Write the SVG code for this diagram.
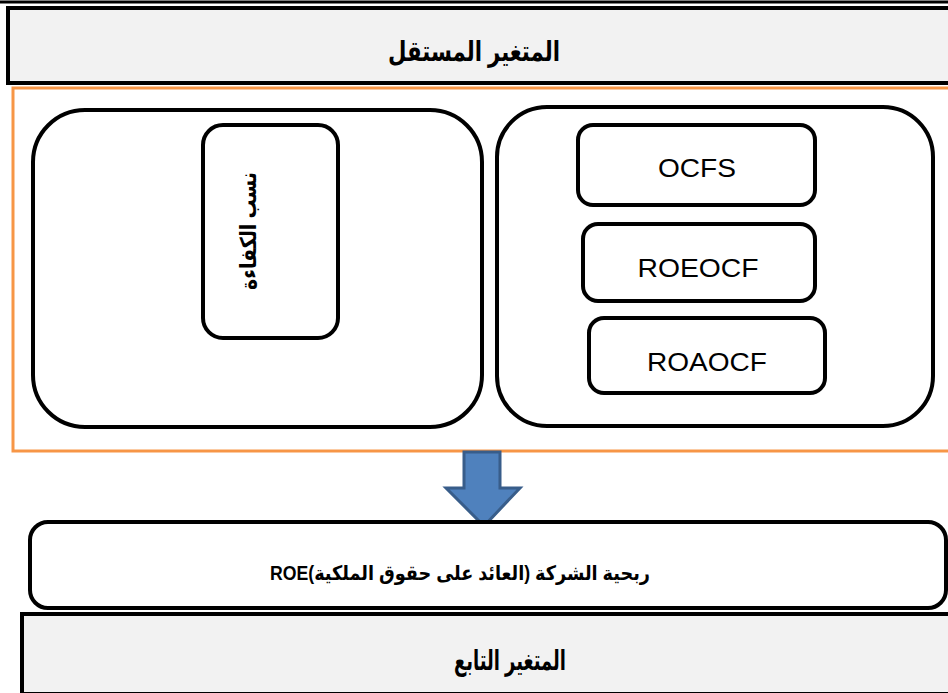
<svg xmlns="http://www.w3.org/2000/svg" width="948" height="693" viewBox="0 0 948 693">
  <style>
    .bar { fill: #f2f2f2; stroke: #000; stroke-width: 4; }
    .box { fill: #fff; stroke: #000; stroke-width: 4; }
    .lbl { font-family: "Liberation Sans", Arial, sans-serif; fill: #000; text-anchor: middle; }
    .ar { font-family: "Liberation Sans", "DejaVu Sans", sans-serif; font-weight: bold; fill: #000; text-anchor: middle; }
  </style>

  <rect x="0" y="0" width="948" height="693" fill="#fff"/>

  <!-- top rule -->
  <line x1="0" y1="2" x2="948" y2="2" stroke="#000" stroke-width="3"/>

  <!-- independent variable header -->
  <g id="header-independent">
    <rect class="bar" x="8" y="8" width="950" height="75"/>
    <text class="ar" x="474" y="61" font-size="28" direction="rtl" textLength="172" lengthAdjust="spacingAndGlyphs">المتغير المستقل</text>
  </g>

  <!-- orange frame holding the independent variables -->
  <g id="frame-independent">
    <rect x="13" y="88" width="950" height="363" fill="#fff" stroke="#f79646" stroke-width="3"/>
  </g>

  <g id="group-efficiency">
    <rect class="box" x="33" y="110" width="449" height="317" rx="52"/>
  </g>

  <g id="node-efficiency">
    <rect class="box" x="203" y="125" width="135" height="213" rx="20"/>
    <text class="ar" font-size="22" direction="rtl" textLength="118" lengthAdjust="spacingAndGlyphs" transform="translate(256,231) rotate(-90)">نسب الكفاءة</text>
  </g>

  <g id="group-cashflow">
    <rect class="box" x="497" y="107" width="436" height="319" rx="50"/>
  </g>

  <g id="node-ocfs">
    <rect class="box" x="578" y="125" width="237" height="80" rx="15"/>
    <text class="lbl" x="697" y="177" font-size="26" textLength="78" lengthAdjust="spacingAndGlyphs">OCFS</text>
  </g>

  <g id="node-roeocf">
    <rect class="box" x="583" y="224" width="232" height="77" rx="15"/>
    <text class="lbl" x="698" y="277" font-size="26" textLength="121" lengthAdjust="spacingAndGlyphs">ROEOCF</text>
  </g>

  <g id="node-roaocf">
    <rect class="box" x="589" y="318" width="236" height="75" rx="15"/>
    <text class="lbl" x="707" y="371" font-size="26" textLength="120" lengthAdjust="spacingAndGlyphs">ROAOCF</text>
  </g>

  <!-- connector: block arrow down -->
  <g id="connectors">
    <polygon points="464,452 500,452 500,488 520,488 484,526 446,488 464,488" fill="#4f81bd" stroke="#385d8a" stroke-width="3" stroke-linejoin="miter"/>
  </g>

  <g id="node-roe">
    <rect class="box" x="30" y="522" width="916" height="86" rx="18"/>
    <text class="ar" x="460" y="580" font-size="20" direction="rtl" textLength="380" lengthAdjust="spacingAndGlyphs">ربحية الشركة (العائد على حقوق الملكية)ROE</text>
  </g>

  <g id="header-dependent">
    <rect class="bar" x="22" y="614" width="940" height="80" stroke-width="5"/>
    <text class="ar" x="510" y="670" font-size="28" direction="rtl" textLength="112" lengthAdjust="spacingAndGlyphs">المتغير التابع</text>
  </g>
</svg>
